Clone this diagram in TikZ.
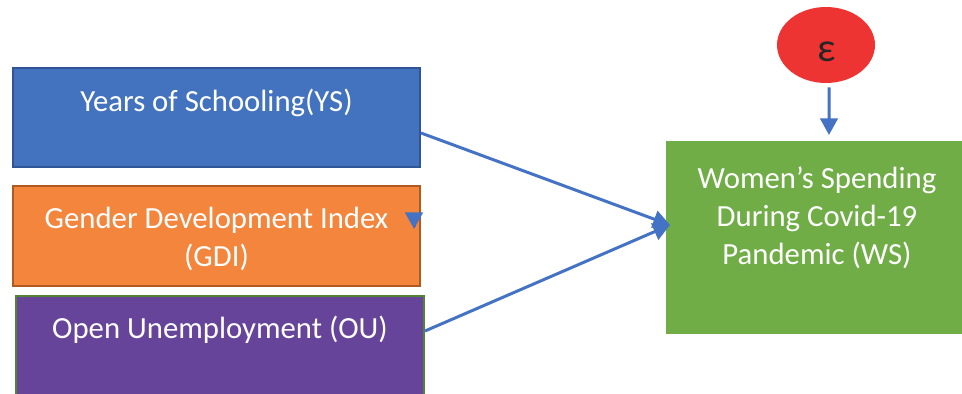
\documentclass[tikz,border=0pt]{standalone}
\usepackage{fontspec}
\setmainfont{Carlito}
\usetikzlibrary{arrows.meta,calc,shapes.geometric}
\definecolor{ysblue}{HTML}{4373BE}
\definecolor{ysedge}{HTML}{2F5597}
\definecolor{gdiorange}{HTML}{F3853D}
\definecolor{gdiedge}{HTML}{AE5A21}
\definecolor{oupurple}{HTML}{66449A}
\definecolor{ouedge}{HTML}{548235}
\definecolor{wsgreen}{HTML}{70AD47}
\definecolor{epsred}{HTML}{EE3333}
\definecolor{arrowblue}{HTML}{4472C4}

\begin{document}
\begin{tikzpicture}[x=0.02cm,y=-0.02cm,>={Triangle[width=10pt,length=9.5pt]},
                    every edge/.style={draw=arrowblue,line width=1.7pt,->},
                    box/.style={rectangle,line width=1.2pt,inner sep=0pt},
                    lbl/.style={text=white,align=center,inner sep=0pt,
                                font=\fontsize{17.5}{21.5}\selectfont}]
  %\draw[help lines] (0,0) grid[step=50] (962,394);
  \clip (0,0) rectangle (962,394);

  \node[box,fill=ysblue,draw=ysedge,minimum width=8.14cm,minimum height=1.98cm] (ys)  at (216.5,117.5) {};
  \node[box,fill=gdiorange,draw=gdiedge,minimum width=8.14cm,minimum height=2cm] (gdi) at (216.5,236) {};
  \node[box,fill=oupurple,draw=ouedge,minimum width=8.16cm,minimum height=2.08cm] (ou)  at (220,348) {};
  \node[box,fill=wsgreen,minimum width=5.98cm,minimum height=3.86cm] (ws) at (815.5,237.5) {};
  \node[ellipse,fill=epsred,minimum width=1.96cm,minimum height=1.52cm] (eps) at (826,45) {};

  \node[lbl] (yst)  at (216.5,103) {Years of Schooling(YS)};
  \node[lbl] (gdit) at (216.5,239) {Gender Development Index\\(GDI)};
  \node[lbl] (out)  at (220,330) {Open Unemployment (OU)};
  \node[lbl] (wst)  at (817,218) {Women’s Spending\\During Covid-19\\Pandemic (WS)};
  \node[inner sep=0pt,text=black!85,font=\fontsize{23}{24}\selectfont] (epst) at (827,52) {ε};

  \coordinate (ysout)    at ($(ys.east)+(0,15.5)$);
  \coordinate (ouout)    at ($(ou.east)+(0,-17)$);
  \coordinate (wsin)     at ($(ws.west)+(5,-12.5)$);
  \coordinate (epsout)   at ($(eps.south)+(3,4)$);
  \coordinate (wstop)    at ($(ws.north)+(13.5,-5)$);
  \coordinate (gdiend)   at ($(gdi.east)+(-7,-7)$);
  \coordinate (gdistart) at ($(gdiend)+(0,-2)$);

  \path (ysout)    edge (wsin)
        (ouout)    edge (wsin)
        (epsout)   edge (wstop)
        (gdistart) edge (gdiend);
\end{tikzpicture}
\end{document}
